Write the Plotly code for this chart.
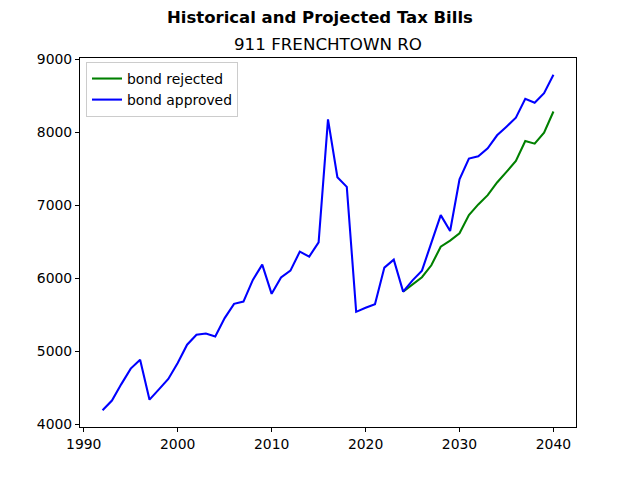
import plotly.graph_objects as go

years_hist = list(range(1992, 2041))
approved = [4195, 4328, 4553, 4765, 4888, 4340, 4481, 4624, 4843, 5093,
            5230, 5247, 5206, 5457, 5653, 5684, 5980, 6190, 5790, 6013,
            6108, 6368, 6300, 6496, 8180, 7388, 7255, 5543, 5598, 5648,
            6149, 6258, 5820, 5974, 6108, 6491, 6868, 6650, 7360, 7643,
            7675, 7784, 7962, 8080, 8203, 8462, 8407, 8539, 8791]
years_proj = list(range(2024, 2041))
rejected = [5820, 5918, 6017, 6181, 6436, 6518, 6619, 6869, 7015, 7142,
            7315, 7460, 7610, 7883, 7847, 7997, 8288]

x_ticks = [1990, 2000, 2010, 2020, 2030, 2040]
y_ticks = [4000, 5000, 6000, 7000, 8000, 9000]

suptitle = "Historical and Projected Tax Bills"
subtitle = "911 FRENCHTOWN RO"

FONT = "DejaVu Sans"

xmin, xmax = min(years_hist), max(years_hist)
xm = (xmax - xmin) * 0.05
allv = approved + rejected
ymin, ymax = min(allv), max(allv)
ym = (ymax - ymin) * 0.05

fig = go.Figure()
fig.add_trace(go.Scatter(x=years_proj, y=rejected, mode="lines", name="bond rejected",
                         line=dict(color="#008000", width=2.08)))
fig.add_trace(go.Scatter(x=years_hist, y=approved, mode="lines", name="bond approved",
                         line=dict(color="#0000ff", width=2.08)))

axis_common = dict(showline=True, mirror=True, linecolor="black", linewidth=1,
                   showgrid=False, zeroline=False, ticks="outside", ticklen=4,
                   tickwidth=1, tickcolor="black",
                   tickfont=dict(family=FONT, size=13.9, color="black"))

fig.update_xaxes(range=[xmin - xm, xmax + xm], tickvals=x_ticks, **axis_common)
fig.update_yaxes(range=[ymin - ym, ymax + ym], tickvals=y_ticks, tickformat="d", **axis_common)

fig.update_layout(
    width=640, height=480,
    margin=dict(l=80, r=64, t=57.6, b=52.8),
    paper_bgcolor="white", plot_bgcolor="white",
    font=dict(family=FONT, color="black"),
    showlegend=True,
    legend=dict(x=6 / 496, y=1 - 4 / 369.6, xanchor="left", yanchor="top",
                bgcolor="rgba(255,255,255,0.8)", bordercolor="#cccccc", borderwidth=1,
                font=dict(family=FONT, size=13.9, color="black"),
                itemwidth=30, tracegroupgap=0),
    annotations=[
        dict(text=suptitle, xref="paper", yref="paper", x=(320 - 80) / 496, y=1,
             xanchor="center", yanchor="middle", yshift=41, showarrow=False,
             font=dict(family=FONT, size=16.5, color="black", weight=700)),
        dict(text=subtitle, xref="paper", yref="paper", x=0.5, y=1,
             xanchor="center", yanchor="middle", yshift=14, showarrow=False,
             font=dict(family=FONT, size=16.7, color="black")),
    ],
)

fig.write_html("out.html")
